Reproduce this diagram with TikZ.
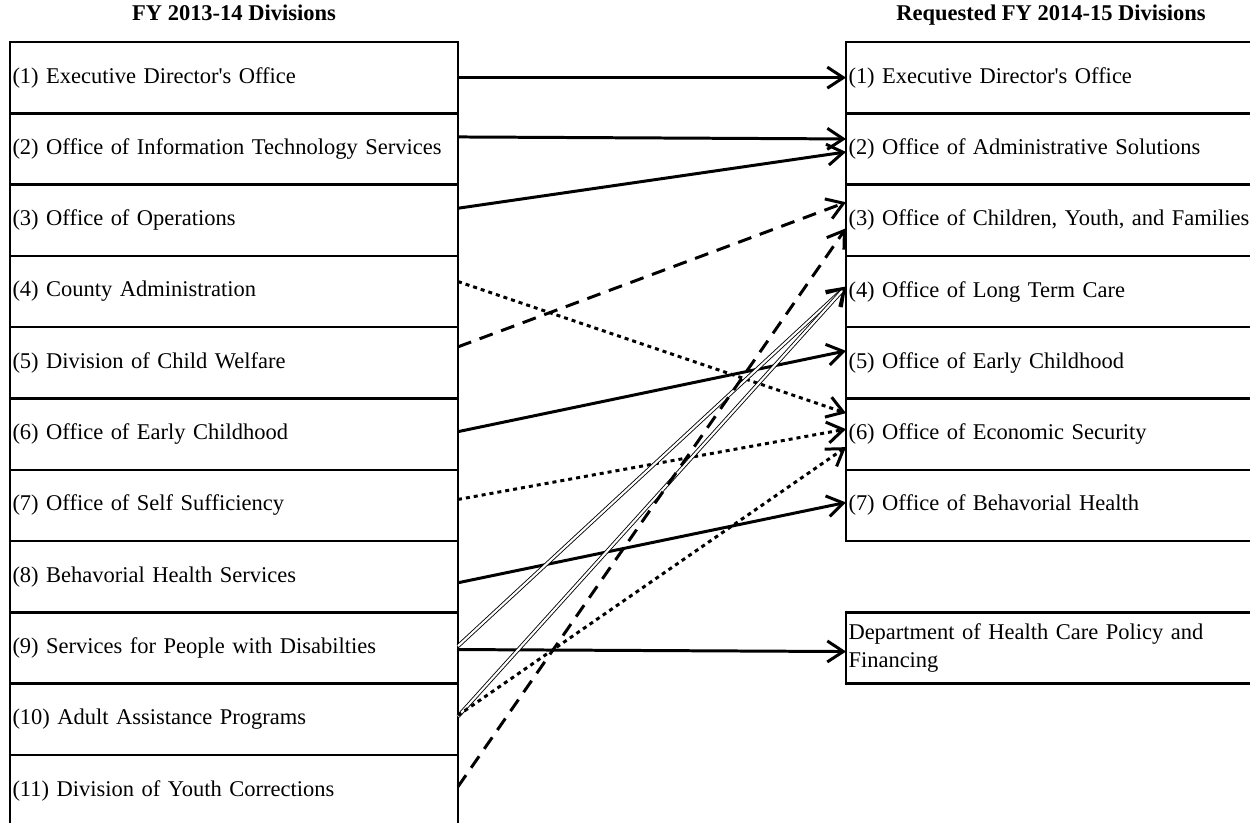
\documentclass[tikz,border=0pt]{standalone}
\usepackage{fontspec}
\setmainfont{Liberation Serif}
\usetikzlibrary{positioning,arrows.meta}

\begin{document}
\begin{tikzpicture}[
    font=\fontsize{12.8}{14.8}\selectfont,
    divbox/.style={draw, line width=1.4pt, outer sep=0pt, inner xsep=0.05cm, inner ysep=0pt,
                   minimum height=1.426cm, align=left},
    oldbox/.style={divbox, text width=8.86cm},
    newbox/.style={divbox, text width=8.1cm},
    head/.style={font=\fontsize{12.8}{14.8}\selectfont\bfseries, inner sep=0pt,
                 text height=0.33cm, text depth=0.1cm},
    link/.style={line width=1.7pt, -{Straight Barb[length=3.2mm, width=4.2mm]}},
    dashlink/.style={link, dash pattern=on 2.8mm off 1.8mm},
    dotlink/.style={link, dash pattern=on 0.8mm off 0.8mm},
    twinlink/.style={line width=0.5pt, double, double distance=1.2pt,
                     -{Straight Barb[length=3.2mm, width=4.2mm, line width=1.5pt]}},
  ]
  \useasboundingbox (0,0) rectangle (25,-16.46);
  \clip (0,0) rectangle (25,-16.46);

  % current divisions
  \node[oldbox, anchor=north west] (o1) at (0.2,-0.84) {(1) Executive Director\textquotesingle s Office};
  \node[oldbox, below=0pt of o1] (o2) {(2) Office of Information Technology Services};
  \node[oldbox, below=0pt of o2] (o3) {(3) Office of Operations};
  \node[oldbox, below=0pt of o3] (o4) {(4) County Administration};
  \node[oldbox, below=0pt of o4] (o5) {(5) Division of Child Welfare};
  \node[oldbox, below=0pt of o5] (o6) {(6) Office of Early Childhood};
  \node[oldbox, below=0pt of o6] (o7) {(7) Office of Self Sufficiency};
  \node[oldbox, below=0pt of o7] (o8) {(8) Behavorial Health Services};
  \node[oldbox, below=0pt of o8] (o9) {(9) Services for People with Disabilties};
  \node[oldbox, below=0pt of o9] (o10) {(10) Adult Assistance Programs};
  \node[oldbox, below=0pt of o10] (o11) {(11) Division of Youth Corrections};

  % requested divisions
  \node[newbox, anchor=north west] (n1) at (16.92,-0.84) {(1) Executive Director\textquotesingle s Office};
  \node[newbox, below=0pt of n1] (n2) {(2) Office of Administrative Solutions};
  \node[newbox, below=0pt of n2] (n3) {(3) Office of Children, Youth, and Families};
  \node[newbox, below=0pt of n3] (n4) {(4) Office of Long Term Care};
  \node[newbox, below=0pt of n4] (n5) {(5) Office of Early Childhood};
  \node[newbox, below=0pt of n5] (n6) {(6) Office of Economic Security};
  \node[newbox, below=0pt of n6] (n7) {(7) Office of Behavorial Health};
  \node[newbox, below=1.426cm of n7] (hcpf) {Department of Health Care Policy and\\[1pt]Financing};

  \node[head, above=0.32cm of o1] (oldhead) {FY 2013-14 Divisions};
  \node[head, above=0.32cm of n1] (newhead) {Requested FY 2014-15 Divisions};

  \draw[link] (o1.east) -- (n1.west);
  \draw[link] ([yshift=0.24cm]o2.east) -- ([yshift=0.2cm]n2.west);
  \draw[link] ([yshift=0.24cm]o3.east) -- ([yshift=-0.06cm]n2.west);
  \draw[dotlink] ([yshift=0.2cm]o4.east) -- ([yshift=0.42cm]n6.west);
  \draw[dashlink] ([yshift=0.32cm]o5.east) -- ([yshift=0.36cm]n3.west);
  \draw[link] ([yshift=0.05cm]o6.east) -- ([yshift=0.24cm]n5.west);
  \draw[dotlink] ([yshift=0.12cm]o7.east) -- ([yshift=0.1cm]n6.west);
  \draw[link] ([yshift=-0.12cm]o8.east) -- ([yshift=0.06cm]n7.west);
  \draw[twinlink] ([yshift=0.04cm]o9.east) -- ([yshift=0.1cm]n4.west);
  \draw[link] ([yshift=-0.03cm]o9.east) -- ([yshift=-0.07cm]hcpf.west);
  \draw[twinlink] ([yshift=0.06cm]o10.east) -- ([yshift=0.1cm]n4.west);
  \draw[dotlink] ([yshift=0.08cm]o10.east) -- ([yshift=-0.26cm]n6.west);
  \draw[dashlink] ([yshift=0.08cm]o11.east) -- ([yshift=-0.16cm]n3.west);
\end{tikzpicture}
\end{document}
